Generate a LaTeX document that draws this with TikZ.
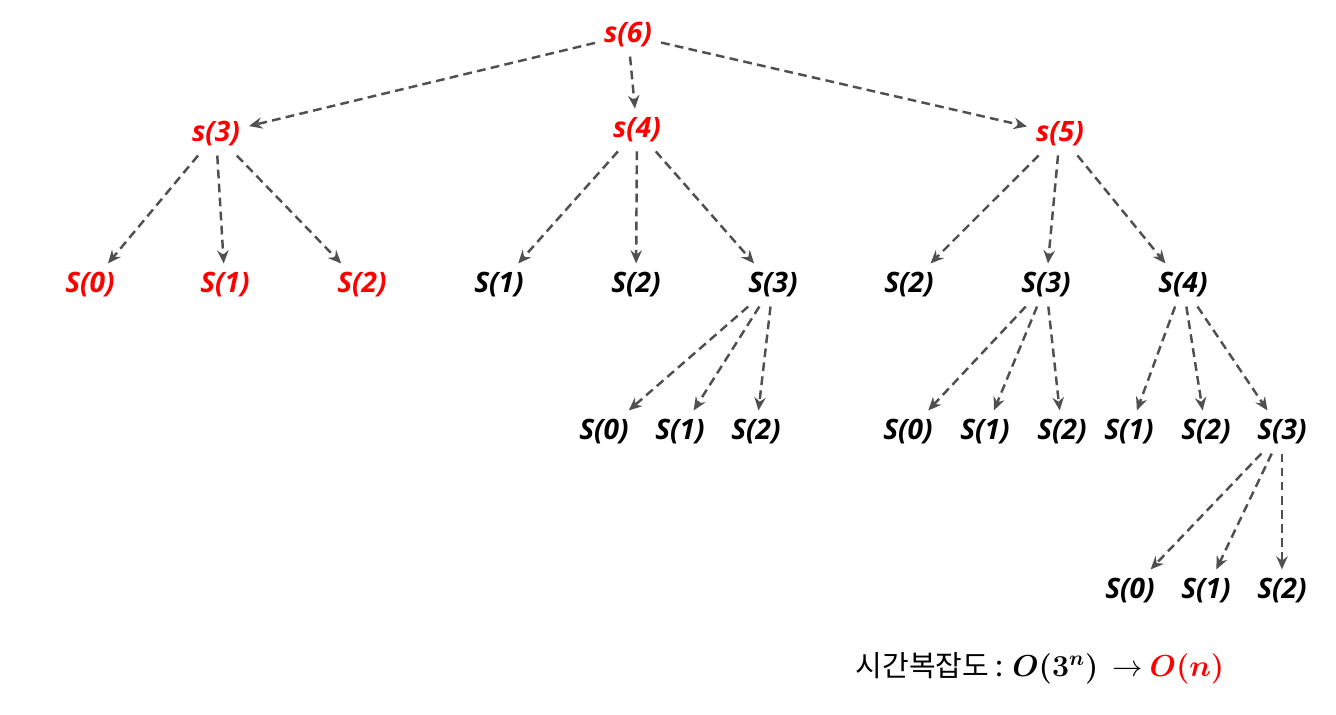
\documentclass[tikz,border=0pt]{standalone}
\usepackage{fontspec}
\setsansfont{Open Sans}
\newfontfamily\kor{Noto Sans CJK KR}
\usetikzlibrary{arrows.meta}
\definecolor{callred}{HTML}{FF0000}
\definecolor{arrgray}{HTML}{505050}
\begin{document}
\begin{tikzpicture}[x=0.2mm,y=-0.2mm,
	call/.style={font=\sffamily\bfseries\itshape\fontsize{16}{18}\selectfont,inner sep=5pt},
	hot/.style={call,text=callred},
	arr/.style={draw=arrgray,line width=1.4pt,dash pattern=on 5pt off 3pt,-{Stealth[length=7.5pt,width=6.5pt,inset=2.5pt]}}]
	\useasboundingbox (0,0) rectangle (1336,715);
	
	% top levels
	\node[hot] (s6) at (628,35) {s(6)};
	\node[hot] (s3) at (216,134) {s(3)}; \node[hot] (s4) at (637,130) {s(4)}; \node[hot] (s5) at (1060,134) {s(5)};
	
	% third row
	\node[hot] (a0) at (90,285) {S(0)}; \node[hot] (a1) at (225,285) {S(1)}; \node[hot] (a2) at (362,285) {S(2)};
	\node[call] (b1) at (499,285) {S(1)}; \node[call] (b2) at (636,285) {S(2)}; \node[call] (b3) at (773,285) {S(3)};
	\node[call] (c2) at (909,285) {S(2)}; \node[call] (c3) at (1046,285) {S(3)}; \node[call] (c4) at (1183,285) {S(4)};
	
	% fourth row
	\node[call] (d0) at (604,432) {S(0)}; \node[call] (d1) at (680,432) {S(1)}; \node[call] (d2) at (756,432) {S(2)};
	\node[call] (e0) at (908,432) {S(0)}; \node[call] (e1) at (985,432) {S(1)}; \node[call] (e2) at (1062,432) {S(2)};
	\node[call] (f1) at (1129,432) {S(1)}; \node[call] (f2) at (1206,432) {S(2)}; \node[call] (f3) at (1282,432) {S(3)};
	
	% fifth row
	\node[call] (g0) at (1130,591) {S(0)}; \node[call] (g1) at (1206,591) {S(1)}; \node[call] (g2) at (1282,591) {S(2)};
	
	\node (cost) at (1040,668) {\kor\fontsize{16.5}{19}\selectfont 시간복잡도 : {\boldmath$O(3^n)$}\enspace$\rightarrow$ \textcolor{callred}{\boldmath$O(n)$}};
	
	\foreach \p/\c in {s6/s3,s6/s4,s6/s5,s3/a0,s3/a1,s3/a2,s4/b1,s4/b2,s4/b3,s5/c2,s5/c3,s5/c4,
		b3/d0,b3/d1,b3/d2,c3/e0,c3/e1,c3/e2,c4/f1,c4/f2,c4/f3,f3/g0,f3/g1,f3/g2}
		\draw[arr] (\p) -- (\c);
\end{tikzpicture}
\end{document}
